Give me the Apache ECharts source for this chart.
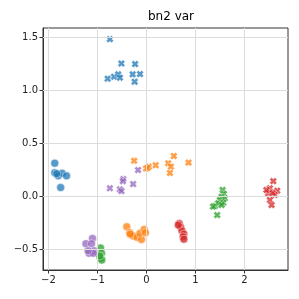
<!DOCTYPE html>
<html><head><meta charset="utf-8">
<script src="https://cdn.jsdelivr.net/npm/echarts@6/dist/echarts.min.js"></script>
<style>html,body{margin:0;padding:0;background:#fff}#c{width:299px;height:299px}</style>
</head><body><div id="c"></div>
<script>
const title = 'bn2 var';
const xTicks = [-2, -1, 0, 1, 2];
const yTicks = [-0.5, 0, 0.5, 1.0, 1.5];
const xRange = [-2.11, 2.89];
const yRange = [-0.698, 1.585];

// circles
const blueCircles = [[-1.87,0.31],[-1.87,0.22],[-1.80,0.19],[-1.72,0.214],[-1.63,0.19],[-1.75,0.08],[-1.83,0.21]];
const orangeCircles = [[-0.40,-0.29],[-0.34,-0.346],[-0.27,-0.377],[-0.19,-0.39],[-0.10,-0.41],[-0.13,-0.352],[-0.045,-0.315],[-0.02,-0.346],[-0.33,-0.36]];
const greenCircles = [[-0.935,-0.49],[-0.915,-0.54],[-0.935,-0.588],[-0.91,-0.604],[-0.95,-0.566]];
const redCircles = [[0.67,-0.26],[0.70,-0.295],[0.725,-0.327],[0.765,-0.358],[0.75,-0.384],[0.765,-0.408],[0.65,-0.274]];
const purpleCircles = [[-1.10,-0.40],[-1.235,-0.45],[-1.12,-0.45],[-1.07,-0.516],[-1.17,-0.54],[-1.085,-0.54],[-1.19,-0.516]];
// crosses
const blueCrosses = [[-0.745,1.48],[-0.51,1.25],[-0.23,1.245],[-0.79,1.107],[-0.66,1.125],[-0.575,1.148],[-0.54,1.116],[-0.28,1.148],[-0.13,1.15],[-0.24,1.078]];
const orangeCrosses = [[-0.25,0.333],[-0.01,0.26],[0.05,0.277],[0.19,0.29],[0.445,0.308],[0.56,0.377],[0.50,0.277],[0.48,0.217],[0.86,0.315],[0.02,0.265]];
const greenCrosses = [[1.555,0.057],[1.58,0.019],[1.535,-0.006],[1.50,-0.038],[1.60,-0.022],[1.40,-0.094],[1.465,-0.069],[1.57,-0.063],[1.445,-0.18],[1.535,-0.085],[1.36,-0.10]];
const redCrosses = [[2.59,0.14],[2.52,0.073],[2.67,0.05],[2.485,0.025],[2.62,0.01],[2.52,-0.038],[2.555,-0.085],[2.45,0.057],[2.575,0.03]];
const purpleCrosses = [[-0.17,0.245],[-0.47,0.16],[-0.48,0.14],[-0.745,0.073],[-0.54,0.063],[-0.51,0.047],[-0.27,0.113]];

const COLORS = {blue:'#1f77b4', orange:'#ff7f0e', green:'#2ca02c', red:'#d62728', purple:'#9467bd'};
const X = 'path://M0,2.8L2.8,0L5,2.2L7.2,0L10,2.8L7.8,5L10,7.2L7.2,10L5,7.8L2.8,10L0,7.2L2.2,5Z';

function sc(data, color, symbol) {
  return {
    type:'scatter', data:data, symbol:symbol, symbolSize: symbol==='circle'?8:7.5,
    itemStyle:{color:color, opacity:0.75, borderColor:'#fff', borderWidth:0.6},
    z: 3, silent:true
  };
}
const fmtMinus = v => (v<0?'\u2212':'') + Math.abs(v);
const series = [
  sc(blueCircles, COLORS.blue, 'circle'),
  sc(orangeCircles, COLORS.orange, 'circle'),
  sc(greenCircles, COLORS.green, 'circle'),
  sc(redCircles, COLORS.red, 'circle'),
  sc(purpleCircles, COLORS.purple, 'circle'),
  sc(blueCrosses, COLORS.blue, X),
  sc(orangeCrosses, COLORS.orange, X),
  sc(greenCrosses, COLORS.green, X),
  sc(redCrosses, COLORS.red, X),
  sc(purpleCrosses, COLORS.purple, X)
];
// grid lines
series.push({
  type:'scatter', data:[], silent:true, z:1,
  markLine:{silent:true, symbol:['none','none'], label:{show:false},
    lineStyle:{color:'#dcdcdc', width:1, type:'solid'},
    data: xTicks.map(v=>({xAxis:v})).concat(yTicks.map(v=>({yAxis:v})))
  }
});

const chart = echarts.init(document.getElementById('c'), null, {renderer:'canvas'});
chart.setOption({
  animation:false,
  title:{text:title, left:166, top:6, textAlign:'center',
    textStyle:{fontFamily:'DejaVu Sans', fontSize:12, fontWeight:'normal', color:'#000'}},
  grid:{left:43, right:11, top:28, bottom:29, show:true, borderColor:'#333', borderWidth:1, backgroundColor:'transparent'},
  xAxis:{type:'value', min:xRange[0], max:xRange[1],
    axisLine:{show:true, onZero:false, lineStyle:{color:'#333'}},
    axisTick:{show:true, length:3.5, inside:false, customValues:xTicks, lineStyle:{color:'#333'}},
    axisLabel:{customValues:xTicks, formatter:fmtMinus, fontFamily:'DejaVu Sans', fontSize:10, color:'#222', margin:5},
    splitLine:{show:false}},
  yAxis:{type:'value', min:yRange[0], max:yRange[1],
    axisLine:{show:true, onZero:false, lineStyle:{color:'#333'}},
    axisTick:{show:true, length:3.5, inside:false, customValues:yTicks, lineStyle:{color:'#333'}},
    axisLabel:{customValues:yTicks, formatter:v=>(v<0?'\u2212':'')+Math.abs(v).toFixed(1), fontFamily:'DejaVu Sans', fontSize:10, color:'#222', margin:5},
    splitLine:{show:false}},
  series:series
});
</script></body></html>
